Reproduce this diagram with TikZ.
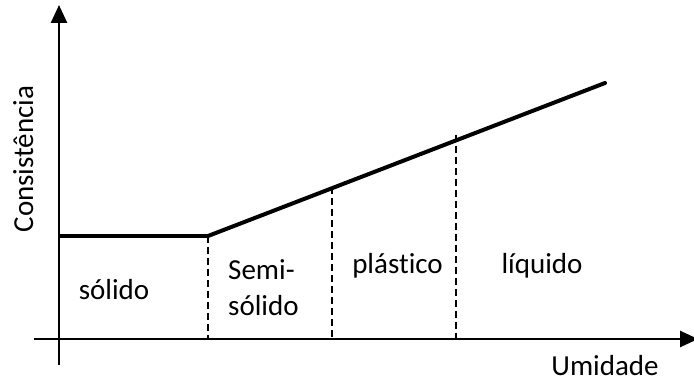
\documentclass[tikz,border=0pt]{standalone}
\usepackage{fontspec}
\setmainfont[Ligatures={NoCommon,NoContextual}]{Carlito}
\usetikzlibrary{arrows.meta}
\begin{document}
\begin{tikzpicture}[x=1pt, y=1pt, font=\fontsize{29}{35}\selectfont, line join=round, >={Triangle[width=16pt,length=18pt]}]
			\useasboundingbox (0,0) rectangle (694,383);
			\tikzset{lbl/.style={inner sep=0pt, anchor=base}, limite/.style={line width=1.6pt, dash pattern=on 7pt off 4pt}}
			\def\xa{208}\def\xb{332}\def\xc{456}\def\yo{44}
			\coordinate (ybot) at (59,18);\coordinate (ytop) at (59,378);
			\coordinate (xleft) at (34,\yo);\coordinate (xright) at (698,\yo);
			\coordinate (p0) at (59,147);\coordinate (p1) at (\xa,147);\coordinate (p2) at (605,300);
			\coordinate (d1) at (\xa,\yo);
			\coordinate (d2t) at (\xb,196);\coordinate (d2) at (\xb,\yo);
			\coordinate (d3t) at (\xc,248);\coordinate (d3) at (\xc,\yo);
			\draw[line width=2.7pt, ->] (ybot)--(ytop);
			\draw[line width=2.7pt, ->] (xleft)--(xright);
			\draw[line width=3.3pt] (p0)--(p1);
			\draw[line width=4pt, line cap=round] (p1)--(p2);
			\draw[limite] (p1)--(d1);
			\draw[limite] (d2t)--(d2);
			\draw[limite] (d3t)--(d3);
			\node[lbl, rotate=90] (consist) at (33,224) {Consistência};
			\node[lbl] (umid) at (605,7) {Umidade};
			\node[lbl] (solido) at (114,83) {sólido};
			\node[lbl, anchor=base west] (semi) at (228,103) {Semi-};
			\node[lbl, anchor=base west] (semisol) at (228,67) {sólido};
			\node[lbl] (plast) at (397.5,109) {plástico};
			\node[lbl] (liq) at (542,109) {líquido};
		\end{tikzpicture}
\end{document}
